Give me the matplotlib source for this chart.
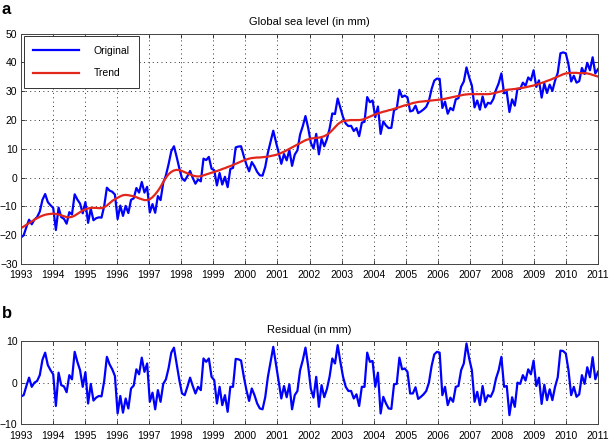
import numpy as np
import matplotlib
matplotlib.use("Agg")
import matplotlib.pyplot as plt

plt.rcParams['font.family'] = ['Liberation Sans', 'DejaVu Sans']

start_year = 1993
end_year = 2011
year_ticks = list(range(1993, 2012))
sea_yticks = [-30, -20, -10, 0, 10, 20, 30, 40, 50]
res_yticks = [-10, 0, 10]

# monthly trend (mm), Jan 1993 .. Dec 2010
trend = [
    -17.5, -17.0, -16.4, -15.8, -15.2, -14.6, -14.1, -13.6, -13.2, -12.9, -12.7, -12.6,
    -12.5, -12.6, -12.8, -13.1, -13.4, -13.7, -13.8, -13.6, -13.2, -12.6, -12.0, -11.4,
    -11.0, -10.7, -10.5, -10.5, -10.5, -10.6, -10.6, -10.3, -9.7, -8.9, -8.1, -7.5,
    -7.0, -6.5, -6.1, -6.0, -6.1, -6.3, -6.5, -6.8, -7.2, -7.5, -7.8, -7.8,
    -7.5, -6.8, -5.8, -4.6, -3.2, -1.5, 0.0, 1.2, 2.0, 2.5, 2.7, 2.6,
    2.3, 1.9, 1.5, 1.1, 0.7, 0.5, 0.4, 0.5, 0.8, 1.1, 1.4, 1.7,
    2.0, 2.3, 2.6, 3.0, 3.3, 3.7, 4.0, 4.4, 4.8, 5.2, 5.6, 6.0,
    6.3, 6.6, 6.8, 6.9, 7.0, 7.0, 7.1, 7.2, 7.3, 7.5, 7.7, 7.9,
    8.2, 8.6, 9.0, 9.5, 10.0, 10.5, 11.0, 11.5, 12.0, 12.5, 13.0, 13.3,
    13.6, 13.7, 13.8, 13.9, 14.1, 14.4, 14.9, 15.6, 16.5, 17.5, 18.5, 19.2,
    19.6, 19.8, 19.9, 20.0, 20.0, 20.0, 20.0, 20.1, 20.4, 20.8, 21.2, 21.6,
    22.0, 22.3, 22.6, 22.9, 23.1, 23.4, 23.6, 23.9, 24.2, 24.5, 24.8, 25.1,
    25.3, 25.6, 25.9, 26.1, 26.3, 26.4, 26.5, 26.6, 26.7, 26.8, 26.9, 27.0,
    27.1, 27.2, 27.4, 27.6, 27.8, 28.0, 28.2, 28.4, 28.6, 28.8, 28.9, 29.0,
    29.0, 29.0, 29.0, 29.0, 29.0, 29.0, 29.0, 29.1, 29.3, 29.5, 29.8, 30.0,
    30.3, 30.5, 30.6, 30.7, 30.8, 30.9, 31.1, 31.2, 31.4, 31.6, 31.8, 32.0,
    32.3, 32.6, 32.9, 33.2, 33.6, 33.9, 34.3, 34.7, 35.1, 35.5, 35.9, 36.2,
    36.3, 36.4, 36.4, 36.4, 36.3, 36.3, 36.3, 36.2, 36.0, 35.7, 35.4, 35.1,
]

# monthly residual (mm)
residual = [
    -3.3, -3.0, -0.8, 1.2, -1.0, 0.0, 0.4, 1.8, 5.5, 7.2, 4.2, 3.0,
    2.0, -5.6, 2.4, -0.6, -0.9, -2.3, 1.8, 0.8, 7.4, 5.0, 3.0, -1.0,
    2.5, -5.0, -0.3, -4.3, -3.6, -3.2, -3.3, 0.4, 6.2, 4.4, 3.2, 1.6,
    -7.4, -3.2, -7.2, -3.8, -6.2, -1.4, -0.7, 3.2, 2.0, 6.0, 2.6, 4.6,
    -4.6, -2.4, -6.4, -1.8, -4.6, -0.3, 0.8, 3.5, 7.2, 8.4, 4.5, 0.6,
    -2.6, -3.0, -1.0, 1.2, -0.8, -2.6, -1.0, -1.8, 5.8, 5.0, 5.8, 1.4,
    0.6, -5.0, -1.0, -5.4, -3.0, -7.0, -1.0, -1.0, 5.7, 5.6, 5.3, 1.5,
    -1.8, -4.4, -1.4, -3.0, -5.0, -6.2, -6.4, -3.5, 1.4, 5.0, 8.6, 4.5,
    0.5, -3.8, -0.8, -3.5, -0.4, -6.4, -3.0, -2.0, 3.0, 5.4, 8.4, 4.0,
    -1.5, -3.6, 1.4, -5.8, -0.6, -3.5, -1.5, 1.5, 5.8, 4.6, 9.0, 5.0,
    1.4, -1.0, -2.0, -2.0, -3.8, -2.8, -5.6, -1.0, -1.0, 7.2, 5.0, 5.2,
    -1.0, 2.4, -7.4, -3.4, -5.0, -6.2, -6.3, -0.4, -0.3, 6.0, 3.2, 3.4,
    2.6, -2.6, -2.6, -1.1, -3.9, -3.4, -2.8, -2.0, 0.0, 4.0, 6.8, 7.4,
    7.2, -3.0, -1.0, -5.4, -3.6, -4.6, -1.0, -0.8, 3.0, 4.6, 9.4, 5.8,
    3.0, -4.6, -2.2, -5.4, -0.8, -4.6, -3.0, -3.4, -2.0, 1.0, 3.0, 6.2,
    -1.0, -0.8, -7.8, -3.5, -5.8, 0.0, -0.3, 1.8, 0.5, 3.2, 2.0, 5.3,
    -0.8, 1.2, -5.1, -0.5, -4.2, -1.6, -4.2, -1.0, 1.3, 7.7, 7.6, 7.0,
    3.0, -3.0, -1.0, -3.4, -2.8, 1.8, -0.3, 3.7, 1.3, 6.1, 0.8, 2.6,
]

trend_arr = np.array(trend)
res_arr = np.array(residual)
original = trend_arr + res_arr
t = np.linspace(start_year, end_year, len(trend))

BLUE = '#0000ff'
RED = '#e2261b'

fig = plt.figure(figsize=(6.09, 4.40), dpi=100)
ax1 = fig.add_axes([21/609, 1-264/440, (598-21)/609, (264-33.7)/440])
ax2 = fig.add_axes([21/609, 1-424.3/440, (598-21)/609, (424.3-341)/440])

def style(ax, yticks):
    ax.set_xlim(start_year, end_year)
    ax.set_xticks(year_ticks)
    ax.set_yticks(yticks)
    ax.set_ylim(yticks[0], yticks[-1])
    ax.tick_params(direction='in', length=3, width=0.6, labelsize=7.5,
                   top=True, right=True, colors='#222222', labelcolor='black')
    ax.tick_params(axis='x', pad=4.5)
    ax.tick_params(axis='y', pad=2.5)
    ax.grid(True, linestyle=(0, (1, 3.5)), color='#333333', linewidth=0.7)
    for s in ax.spines.values():
        s.set_color('#444444')
        s.set_linewidth(0.7)

style(ax1, sea_yticks)
ax1.plot(t, original, color=BLUE, lw=1.6, label='Original')
ax1.plot(t, trend_arr, color=RED, lw=1.6, label='Trend')
ax1.set_title('Global sea level (in mm)', fontsize=8, pad=6)
leg = ax1.legend(loc='upper left', fontsize=7.5, handlelength=4.4, handletextpad=1.4,
                 borderpad=0.9, labelspacing=1.2, fancybox=False, framealpha=1,
                 borderaxespad=0.25)
leg.get_frame().set_edgecolor('#333333')
leg.get_frame().set_linewidth(0.7)

style(ax2, res_yticks)
ax2.plot(t, res_arr, color=BLUE, lw=1.6)
ax2.set_title('Residual (in mm)', fontsize=8, pad=6)

fig.text(2/609, 1-9/440, 'a', fontsize=12, fontweight='bold', va='center', ha='left')
fig.text(2/609, 1-314/440, 'b', fontsize=12, fontweight='bold', va='center', ha='left')

fig.savefig('out.png', dpi=100)
